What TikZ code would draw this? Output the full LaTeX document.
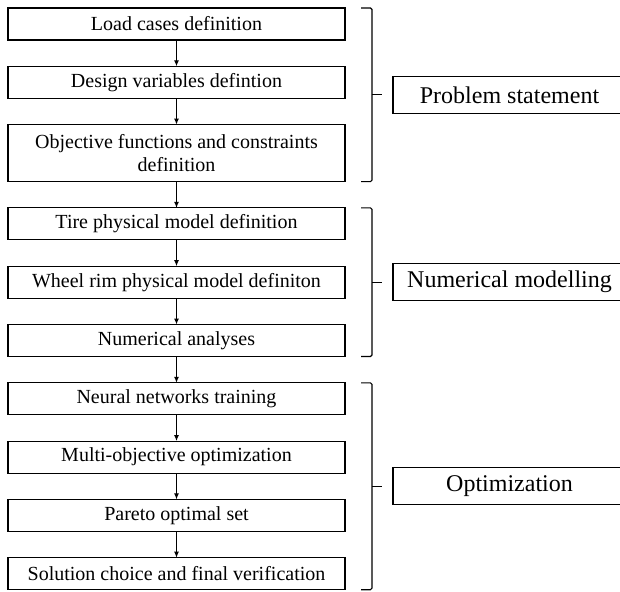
\documentclass[tikz,border=0pt]{standalone}
\usepackage{fontspec}
\setmainfont{Liberation Serif}
\usetikzlibrary{arrows.meta,calc,positioning}

\begin{document}
\begin{tikzpicture}[x=1pt,y=-1pt,line width=1.1pt,
  stepbox/.style={draw,minimum width=337pt,minimum height=32pt,inner sep=2pt,outer sep=0pt,align=center,font=\fontsize{20}{23}\selectfont},
  phase/.style={draw,minimum width=233pt,minimum height=37pt,inner sep=2pt,outer sep=0pt,font=\fontsize{24}{28}\selectfont},
  flow/.style={-{Latex[length=6pt,width=5pt]}},
  bracket/.style={rounded corners=1.5pt}]
  \useasboundingbox (0,0) rectangle (620,591);
  % flow chart
  \node[stepbox] (loads) at (176.5,24) {Load cases definition};
  \node[stepbox,below=26.3pt of loads] (vars) {Design variables defintion};
  \node[stepbox,below=26.3pt of vars,minimum height=57pt] (objs) {Objective functions and constraints\\definition};
  \node[stepbox,below=26.3pt of objs] (tire) {Tire physical model definition};
  \node[stepbox,below=26.3pt of tire] (rim) {Wheel rim physical model definiton};
  \node[stepbox,below=26.3pt of rim] (analyses) {Numerical analyses};
  \node[stepbox,below=26.3pt of analyses] (training) {Neural networks training};
  \node[stepbox,below=26.3pt of training] (moo) {Multi-objective optimization};
  \node[stepbox,below=26.3pt of moo] (pareto) {Pareto optimal set};
  \node[stepbox,below=26.3pt of pareto] (choice) {Solution choice and final verification};
  \foreach \a/\b in {loads/vars,vars/objs,objs/tire,tire/rim,rim/analyses,analyses/training,training/moo,moo/pareto,pareto/choice}
    \draw[flow] (\a) -- (\b);
  % braces and phases
  \foreach \first/\last/\grp/\txt in {loads/objs/problem/Problem statement,tire/analyses/modelling/Numerical modelling,training/choice/optim/Optimization}{
    \draw[bracket] ($(\first.north east)+(16,0)$) -- ++(11,0) |- ($(\last.south east)+(16,0)$);
    \draw ($(\first.north east)!.5!(\last.south east)+(27,0)$) -- ++(10,0) coordinate (\grp-tip);
    \node[phase,right=11pt of \grp-tip] (\grp) {\txt};
  }
\end{tikzpicture}
\end{document}
